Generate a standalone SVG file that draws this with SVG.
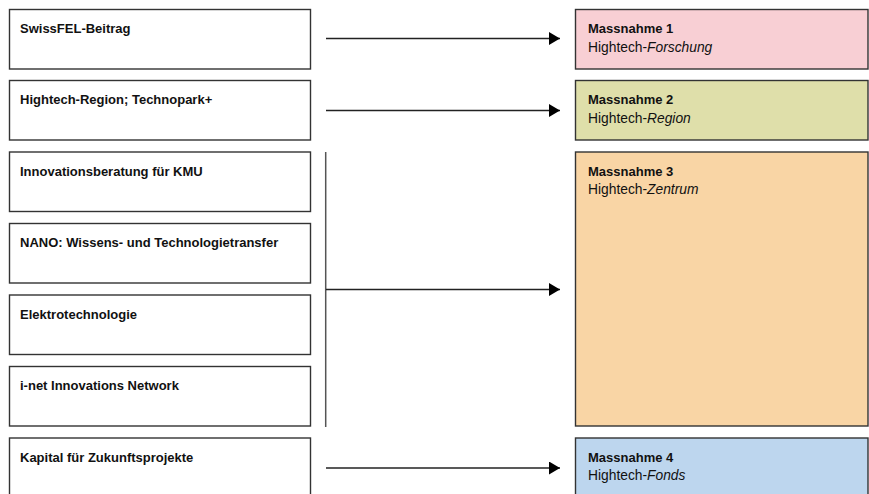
<svg xmlns="http://www.w3.org/2000/svg" width="869" height="494" viewBox="0 0 869 494">
<defs>
<marker id="ah" viewBox="0 0 11 13" refX="11" refY="6.5" markerWidth="11" markerHeight="13" markerUnits="userSpaceOnUse" orient="auto">
<path d="M0,0 L11,6.5 L0,13 Z" fill="#000"/>
</marker>
<style>
.src rect{fill:#fff;stroke:#333;stroke-width:1.4}
.dst rect{stroke:#333;stroke-width:1.4}
.t{font-family:"Liberation Sans",Arial,sans-serif;font-size:13px;fill:#111}
.r{font-size:13.8px}
.b{font-weight:bold}
.i{font-style:italic}
.c line{stroke:#222;stroke-width:1.4}
</style>
</defs>
<rect width="869" height="494" fill="#fff"/>
<g id="s1" class="src"><rect x="9.5" y="9.5" width="301" height="59.5"/><text class="t b" x="20" y="33">SwissFEL-Beitrag</text></g>
<g id="s2" class="src"><rect x="9.5" y="80.5" width="301" height="59.5"/><text class="t b" x="20" y="104">Hightech-Region; Technopark+</text></g>
<g id="s3" class="src"><rect x="9.5" y="152" width="301" height="59.5"/><text class="t b" x="20" y="175.5">Innovationsberatung für KMU</text></g>
<g id="s4" class="src"><rect x="9.5" y="223.5" width="301" height="59.5"/><text class="t b" x="20" y="247">NANO: Wissens- und Technologietransfer</text></g>
<g id="s5" class="src"><rect x="9.5" y="295" width="301" height="59.5"/><text class="t b" x="20" y="318.5">Elektrotechnologie</text></g>
<g id="s6" class="src"><rect x="9.5" y="366.5" width="301" height="59.5"/><text class="t b" x="20" y="390">i-net Innovations Network</text></g>
<g id="s7" class="src"><rect x="9.5" y="438" width="301" height="70"/><text class="t b" x="20" y="461.5">Kapital für Zukunftsprojekte</text></g>

<g id="m1" class="dst"><rect x="575.5" y="9.5" width="292.5" height="59.5" fill="#f8cfd4"/><text class="t b" x="588" y="33">Massnahme 1</text><text class="t r" x="588" y="51.5">Hightech-<tspan class="i">Forschung</tspan></text></g>
<g id="m2" class="dst"><rect x="575.5" y="80.5" width="292.5" height="59.5" fill="#dfdfaa"/><text class="t b" x="588" y="104">Massnahme 2</text><text class="t r" x="588" y="122.5">Hightech-<tspan class="i">Region</tspan></text></g>
<g id="m3" class="dst"><rect x="575.5" y="152" width="292.5" height="274" fill="#f9d5a5"/><text class="t b" x="588" y="175.5">Massnahme 3</text><text class="t r" x="588" y="194">Hightech-<tspan class="i">Zentrum</tspan></text></g>
<g id="m4" class="dst"><rect x="575.5" y="438" width="292.5" height="70" fill="#bdd6ee"/><text class="t b" x="588" y="461.5">Massnahme 4</text><text class="t r" x="588" y="480">Hightech-<tspan class="i">Fonds</tspan></text></g>

<g id="connectors" class="c">
<line x1="326" y1="38.5" x2="560" y2="38.5" marker-end="url(#ah)"/>
<line x1="326" y1="110.5" x2="560" y2="110.5" marker-end="url(#ah)"/>
<line x1="325.7" y1="152" x2="325.7" y2="427" style="stroke:#555;stroke-width:1.5"/>
<line x1="326" y1="289.5" x2="560" y2="289.5" marker-end="url(#ah)"/>
<line x1="326" y1="468" x2="560" y2="468" marker-end="url(#ah)"/>
</g>
</svg>
